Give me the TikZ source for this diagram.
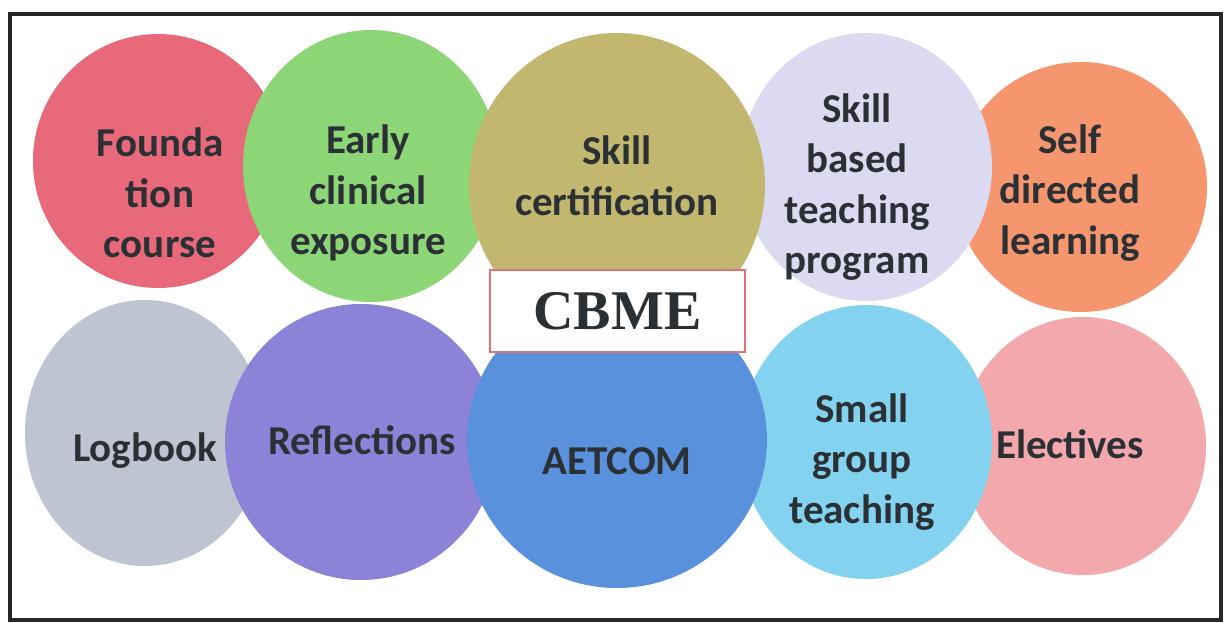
\documentclass[tikz,border=0pt]{standalone}
\usepackage{fontspec}
\setmainfont{Carlito}
\newfontfamily\cbmefont{Liberation Serif}
\usepackage{tikz}
\usetikzlibrary{shapes.geometric}

\definecolor{foundred}{HTML}{E8697A}
\definecolor{earlygreen}{HTML}{8CD678}
\definecolor{certolive}{HTML}{C1B76E}
\definecolor{skilllav}{HTML}{DCDAF0}
\definecolor{selforange}{HTML}{F5966E}
\definecolor{loggray}{HTML}{BEC4D2}
\definecolor{reflpurple}{HTML}{8C82D7}
\definecolor{aetblue}{HTML}{5A91DC}
\definecolor{smallblue}{HTML}{82D2F0}
\definecolor{electpink}{HTML}{F3A8AC}
\definecolor{textgray}{HTML}{2B3035}
\definecolor{boxred}{HTML}{E0707A}

\begin{document}
\begin{tikzpicture}[x=1pt, y=-1pt, every text node part/.style={align=center},
    blob/.style={ellipse, inner sep=0pt, draw=none},
    lbl/.style={text=textgray, font=\bfseries\fontsize{41}{50.5}\selectfont}]
            \fill[white] (0, 0) rectangle (1224, 623);
            \useasboundingbox (0, 0) rectangle (1224, 623);

            % back circles
            \node[blob, fill=foundred, minimum width=250pt, minimum height=254pt] (found) at (158, 161) {};
            \node[blob, fill=selforange, minimum width=252pt, minimum height=250pt] (self) at (1081, 187) {};
            \node[blob, fill=loggray, minimum width=240pt, minimum height=266pt] (log) at (145, 433) {};
            \node[blob, fill=electpink, minimum width=246pt, minimum height=258pt] (elect) at (1083, 446) {};

            \node[blob, fill=earlygreen, minimum width=256pt, minimum height=272pt] (early) at (371, 166) {};
            \node[blob, fill=skilllav, minimum width=252pt, minimum height=268pt] (skill) at (866, 167) {};
            \node[blob, fill=reflpurple, minimum width=272pt, minimum height=276pt] (refl) at (361, 442) {};
            \node[blob, fill=smallblue, minimum width=252pt, minimum height=274pt] (small) at (866, 442) {};

            \node[blob, fill=certolive, minimum width=296pt, minimum height=304pt] (cert) at (617, 185) {};
            \node[blob, fill=aetblue, minimum width=300pt, minimum height=296pt] (aet) at (617, 440) {};

            % labels
            \node[lbl] (foundtxt) at (160, 193) {Founda\\tion\\course};
            \node[lbl] (earlytxt) at (368, 193) {Early\\clinical\\exposure};
            \node[lbl] (certtxt) at (617, 176) {Skill\\certification};
            \node[lbl] (skilltxt) at (857, 187) {Skill\\based\\teaching\\program};
            \node[lbl] (selftxt) at (1070, 193) {Self\\directed\\learning};
            \node[lbl] (logtxt) at (145, 451) {Logbook};
            \node[lbl] (refltxt) at (362, 440) {Reflections};
            \node[lbl] (aettxt) at (617, 461) {AETCOM};
            \node[lbl] (smalltxt) at (862, 462) {Small\\group\\teaching};
            \node[lbl] (electtxt) at (1070, 444) {Electives};

            \node[draw=boxred, line width=2pt, fill=white, minimum width=255pt, minimum height=82pt,
                font=\cbmefont\bfseries\fontsize{56}{60}\selectfont, text=textgray] (cbme) at (617.5, 311) {CBME};

            \draw[line width=3.5pt, color=black!85] (10, 14) rectangle (1221, 620);
        \end{tikzpicture}
\end{document}
